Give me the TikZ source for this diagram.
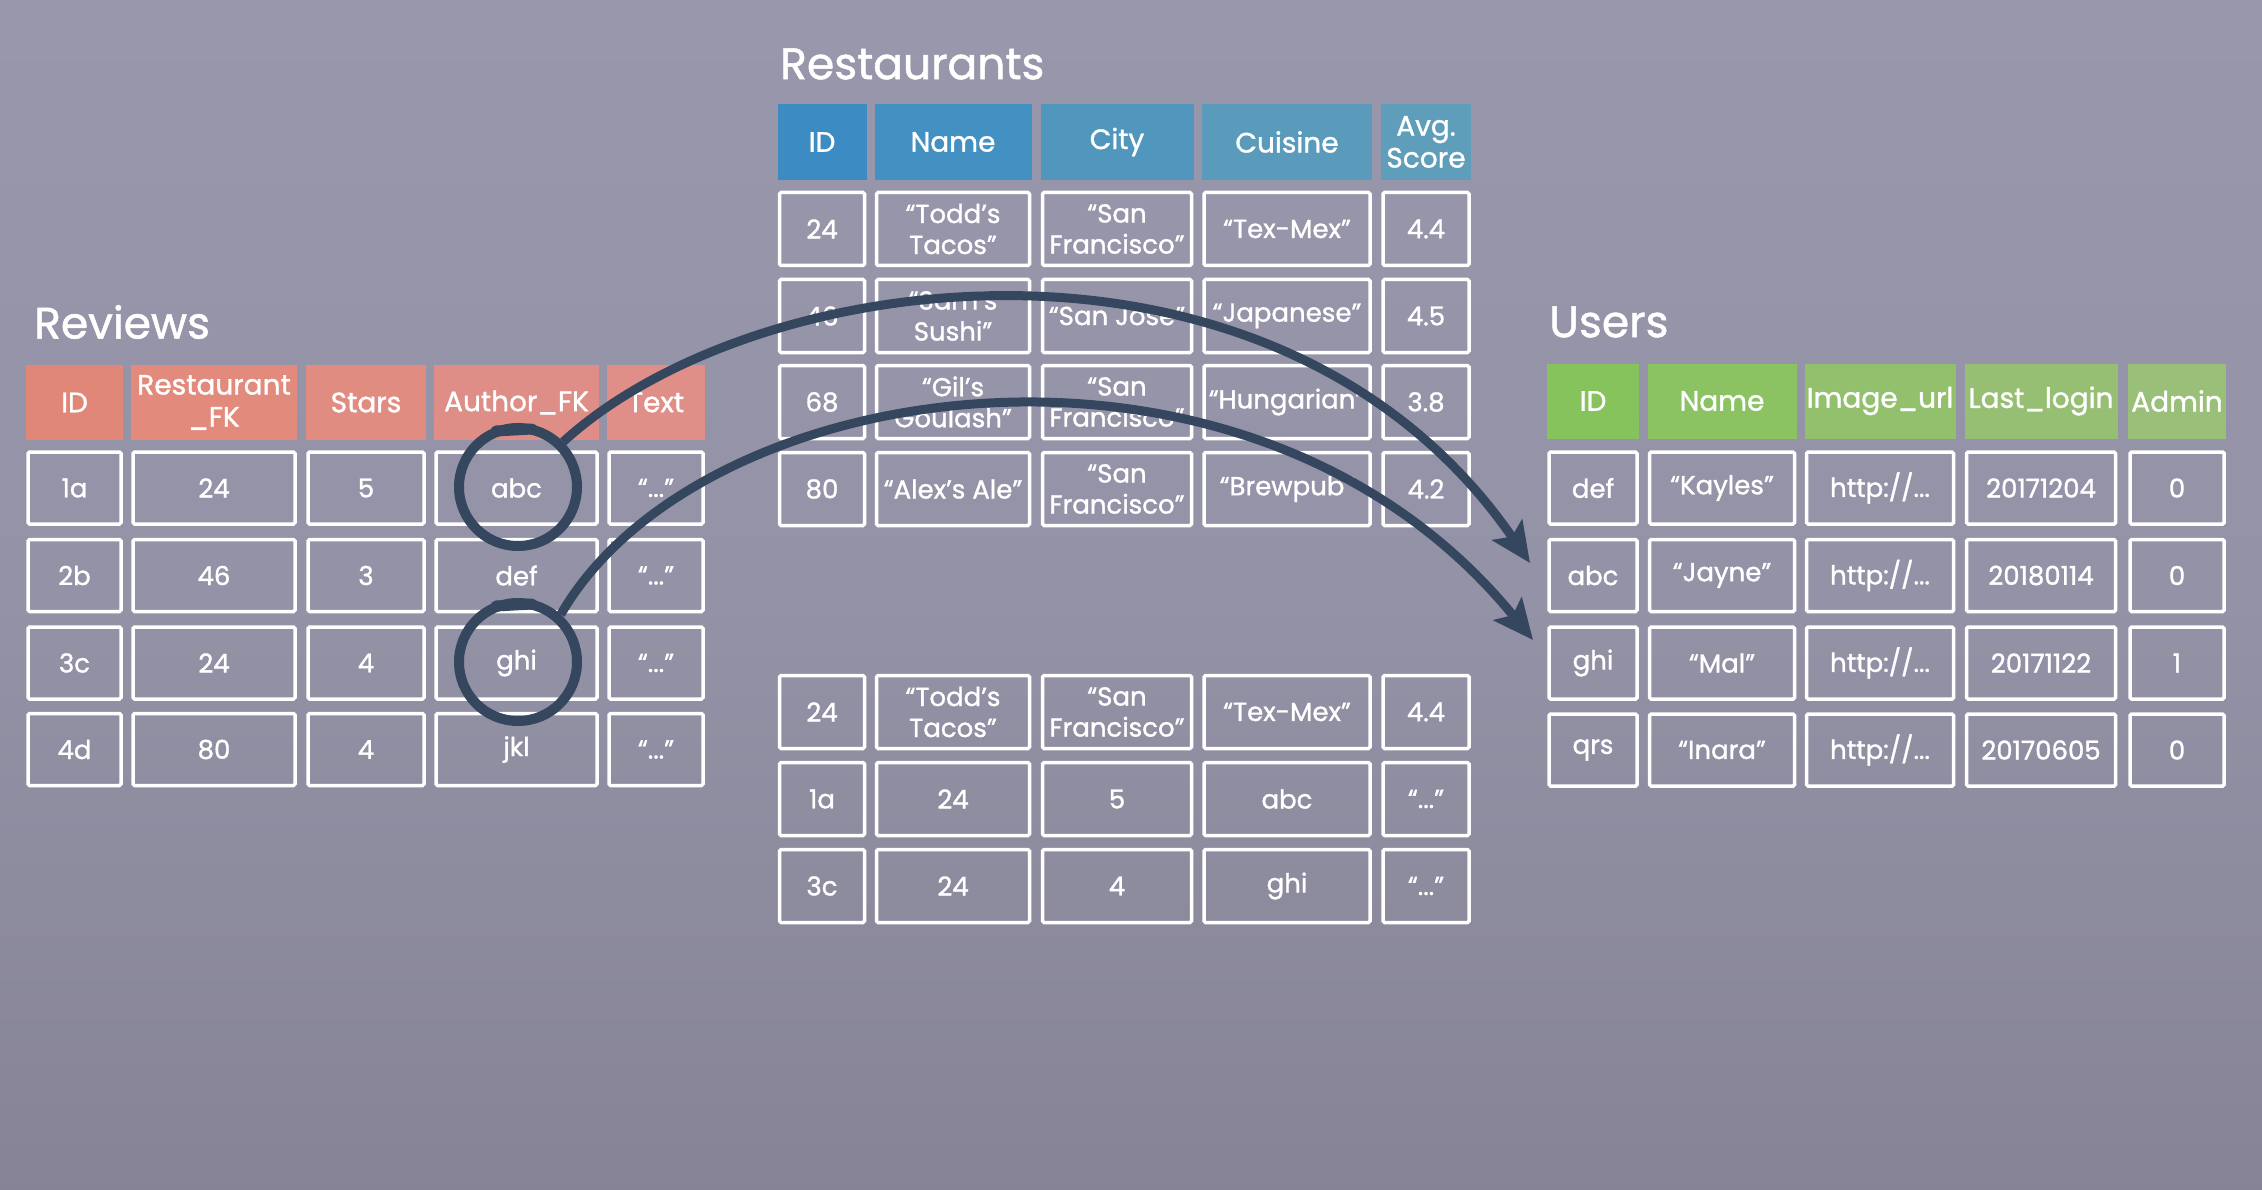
\documentclass[tikz,border=0pt]{standalone}
\usepackage{fontspec}
\setmainfont{Poppins}[RawFeature={embolden=1.2}]
\usetikzlibrary{arrows.meta}
\definecolor{bgtop}{RGB}{158,156,178}
\definecolor{bgmid}{RGB}{148,146,166}
\definecolor{bglow}{RGB}{128,126,143}
\definecolor{bgbot}{RGB}{110,108,124}
\pgfdeclareverticalshading{bgshade}{100bp}{color(0bp)=(bgbot); color(16bp)=(bglow); color(50bp)=(bgmid); color(100bp)=(bgtop)}
\definecolor{rsA}{HTML}{3C8CC3}
\definecolor{rsB}{HTML}{4390C2}
\definecolor{rsC}{HTML}{5096BD}
\definecolor{rsD}{HTML}{5A9BBB}
\definecolor{rsE}{HTML}{5F9EBA}
\definecolor{rvA}{HTML}{E18778}
\definecolor{rvB}{HTML}{E28A7C}
\definecolor{rvC}{HTML}{E08C80}
\definecolor{rvD}{HTML}{DE8E86}
\definecolor{rvE}{HTML}{DF8E88}
\definecolor{usA}{HTML}{86C35C}
\definecolor{usB}{HTML}{8BC363}
\definecolor{usC}{HTML}{92C06C}
\definecolor{usD}{HTML}{97BF74}
\definecolor{usE}{HTML}{9ABF78}
\definecolor{ink}{HTML}{35475F}
\tikzset{
  cellbox/.style={draw=white, line width=3.5pt, rounded corners=1.5pt, inner sep=0pt, align=center, text=white,
    font=\fontsize{26}{31}\selectfont},
  headbox/.style={inner sep=0pt, align=center, text=white, font=\fontsize{28}{32}\selectfont},
  titletext/.style={inner sep=0pt, anchor=west, text=white, font=\fontsize{44}{50}\selectfont},
  loop/.style={draw=ink, line width=10pt, circle, minimum size=118pt, inner sep=0pt},
  knob/.style={draw=ink, line width=11pt, line cap=round},
  fkarrow/.style={draw=ink, line width=9pt, -{Stealth[length=40pt,width=36pt,inset=8pt]}}
}
% Restaurants-style columns
\newcommand\rsrow[7]{%
  \node[cellbox, minimum width=85pt, minimum height=73pt] (#1-1) at (822,#2) {#3};
  \node[cellbox, minimum width=153pt, minimum height=73pt] (#1-2) at (953,#2) {#4};
  \node[cellbox, minimum width=149pt, minimum height=73pt] (#1-3) at (1117,#2) {#5};
  \node[cellbox, minimum width=166pt, minimum height=73pt] (#1-4) at (1287,#2) {#6};
  \node[cellbox, minimum width=86pt, minimum height=73pt] (#1-5) at (1426,#2) {#7};}
% Reviews columns
\newcommand\rvrow[7]{%
  \node[cellbox, minimum width=93pt, minimum height=72pt] (#1-1) at (74.5,#2) {#3};
  \node[cellbox, minimum width=162pt, minimum height=72pt] (#1-2) at (214,#2) {#4};
  \node[cellbox, minimum width=116pt, minimum height=72pt] (#1-3) at (366,#2) {#5};
  \node[cellbox, minimum width=161pt, minimum height=72pt] (#1-4) at (516.5,#2) {#6};
  \node[cellbox, minimum width=94pt, minimum height=72pt] (#1-5) at (656,#2) {#7};}
% Users columns
\newcommand\usrow[7]{%
  \node[cellbox, minimum width=88pt, minimum height=72pt] (#1-1) at (1593,#2) {#3};
  \node[cellbox, minimum width=145pt, minimum height=72pt] (#1-2) at (1722,#2) {#4};
  \node[cellbox, minimum width=147pt, minimum height=72pt] (#1-3) at (1880,#2) {#5};
  \node[cellbox, minimum width=149pt, minimum height=72pt] (#1-4) at (2041,#2) {#6};
  \node[cellbox, minimum width=94pt, minimum height=72pt] (#1-5) at (2177,#2) {#7};}
\begin{document}
\begin{tikzpicture}[x=1pt,y=-1pt]
\useasboundingbox (0,0) rectangle (2262,1190);
\shade[shading=bgshade] (0,0) rectangle (2262,1190);

% ---------- titles ----------
\node[titletext] (tRest) at (780,64) {Restaurants};
\node[titletext] (tRev) at (34,322) {Reviews};
\node[titletext] (tUsr) at (1549,322) {Users};

% ---------- Restaurants ----------
\node[headbox, fill=rsA, minimum width=89pt, minimum height=76pt] (rh-1) at (822,142) {ID};
\node[headbox, fill=rsB, minimum width=157pt, minimum height=76pt] (rh-2) at (953,142) {Name};
\node[headbox, fill=rsC, minimum width=153pt, minimum height=76pt] (rh-3) at (1117,142) {City};
\node[headbox, fill=rsD, minimum width=170pt, minimum height=76pt] (rh-4) at (1287,142) {Cuisine};
\node[headbox, fill=rsE, minimum width=90pt, minimum height=76pt] (rh-5) at (1426,142) {Avg.\\Score};
\rsrow{rs1}{229}{24}{“Todd’s\\Tacos”}{“San\\Francisco”}{“Tex-Mex”}{4.4}
\rsrow{rs2}{316}{46}{“Sam’s\\Sushi”}{“San Jose”}{“Japanese”}{4.5}
\rsrow{rs3}{402}{68}{“Gil’s\\Goulash”}{“San\\Francisco”}{“Hungarian”}{3.8}
\rsrow{rs4}{489}{80}{“Alex’s Ale”}{“San\\Francisco”}{“Brewpub”}{4.2}

% ---------- joined rows ----------
\rsrow{jn1}{712}{24}{“Todd’s\\Tacos”}{“San\\Francisco”}{“Tex-Mex”}{4.4}
\rsrow{jn2}{799}{1a}{24}{5}{abc}{“...”}
\rsrow{jn3}{886}{3c}{24}{4}{ghi}{“...”}

% ---------- Reviews ----------
\node[headbox, fill=rvA, minimum width=97pt, minimum height=75pt] (vh-1) at (74.5,402.5) {ID};
\node[headbox, fill=rvB, minimum width=166pt, minimum height=75pt] (vh-2) at (214,402.5) {Restaurant\\\_FK};
\node[headbox, fill=rvC, minimum width=120pt, minimum height=75pt] (vh-3) at (366,402.5) {Stars};
\node[headbox, fill=rvD, minimum width=165pt, minimum height=75pt] (vh-4) at (516.5,402.5) {Author\_FK};
\node[headbox, fill=rvE, minimum width=98pt, minimum height=75pt] (vh-5) at (656,402.5) {Text};
\rvrow{rv1}{488}{1a}{24}{5}{abc}{“...”}
\rvrow{rv2}{575.5}{2b}{46}{3}{def}{“...”}
\rvrow{rv3}{663}{3c}{24}{4}{ghi}{“...”}
\rvrow{rv4}{749.5}{4d}{80}{4}{jkl}{“...”}

% ---------- Users ----------
\node[headbox, fill=usA, minimum width=92pt, minimum height=75pt] (uh-1) at (1593,401) {ID};
\node[headbox, fill=usB, minimum width=149pt, minimum height=75pt] (uh-2) at (1722,401) {Name};
\node[headbox, fill=usC, minimum width=151pt, minimum height=75pt] (uh-3) at (1880,401) {Image\_url};
\node[headbox, fill=usD, minimum width=153pt, minimum height=75pt] (uh-4) at (2041,401) {Last\_login};
\node[headbox, fill=usE, minimum width=98pt, minimum height=75pt] (uh-5) at (2177,401) {Admin};
\usrow{us1}{488}{def}{“Kayles”}{http://...}{20171204}{0}
\usrow{us2}{575.5}{abc}{“Jayne”}{http://...}{20180114}{0}
\usrow{us3}{663}{ghi}{“Mal”}{http://...}{20171122}{1}
\usrow{us4}{750}{qrs}{“Inara”}{http://...}{20170605}{0}

% ---------- foreign key loops and arrows ----------
\node[loop] (c1) at (518,487) {};
\node[loop] (c2) at (518,662) {};
\draw[knob] ([shift={(-22,8)}]c1.north) -- ([shift={(14,6)}]c1.north);
\draw[knob] ([shift={(-22,8)}]c2.north) -- ([shift={(14,6)}]c2.north);
\coordinate (t1) at (1530,563);
\coordinate (t2) at (1533,640);
\draw[fkarrow] (c1.45) .. controls (760,262) and (1280,200) .. (t1);
\draw[fkarrow] (c2.48) .. controls (700,372) and (1250,292) .. (t2);
\end{tikzpicture}
\end{document}
